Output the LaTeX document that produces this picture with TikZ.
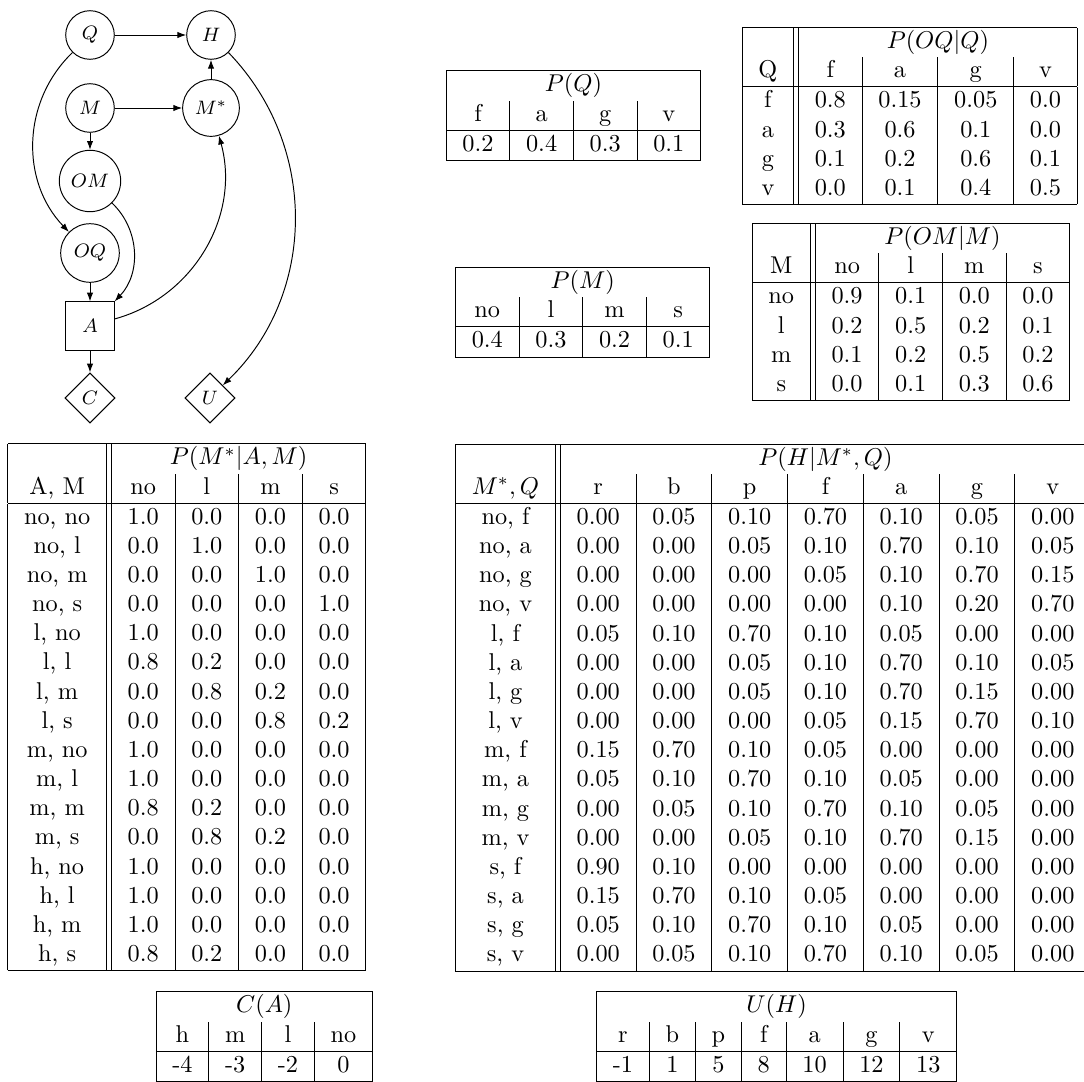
\documentclass[tikz,border=0pt]{standalone}
\usetikzlibrary{arrows.meta,shapes.geometric}
\setlength{\tabcolsep}{6.7pt}

\begin{document}
\begin{tikzpicture}[x=0.4115pt,y=-0.4115pt,
  chance/.style={circle,draw,minimum size=20pt,inner sep=3.3pt,font=\footnotesize},
  decision/.style={rectangle,draw,minimum size=19.8pt,inner sep=2pt,font=\footnotesize},
  utility/.style={diamond,draw,minimum size=20.6pt,inner sep=0pt,font=\footnotesize},
  arr/.style={-{Latex[length=3.6pt,width=2.6pt]}},
  cpt/.style={anchor=north west,inner sep=0pt}]
 \useasboundingbox (0,0) rectangle (1084,1082);
 % influence diagram
 \node[chance] (Q) at (90,35) {$Q$};
 \node[chance] (H) at (211,35) {$H$};
 \node[chance] (M) at (90,108) {$M$};
 \node[chance] (Ms) at (211,108) {$M^*$};
 \node[chance] (OM) at (90,181) {$OM$};
 \node[chance] (OQ) at (90,253) {$OQ$};
 \node[decision] (A) at (90,326) {$A$};
 \node[utility] (C) at (90,398) {$C$};
 \node[utility] (U) at (210,398) {$U$};
 \draw[arr] (Q) -- (H);
 \draw[arr] (M) -- (Ms);
 \draw[arr] (Ms) -- (H);
 \draw[arr] (M) -- (OM);
 \draw[arr] (OQ) -- (A);
 \draw[arr] (A) -- (C);
 \draw[arr] (Q) to[bend right=45] (OQ);
 \draw[arr] (OM) to[bend left=45] (A);
 \draw[arr] (A) to[bend right=45] (Ms);
 \draw[arr] (H) to[bend left=45] (U);
 % tables
 \node[cpt] (tQ) at (445.7,70) {\begin{tabular}{|c|c|c|c|}
  \hline
  \multicolumn{4}{|c|}{$P(Q)$} \\
  f & a & g & v \\ \hline
  0.2 & 0.4 & 0.3 & 0.1 \\ \hline
 \end{tabular}};
 \node[cpt] (tM) at (455,266.7) {\begin{tabular}{|c|c|c|c|}
  \hline
  \multicolumn{4}{|c|}{$P(M)$} \\
  no & l & m & s \\ \hline
  0.4 & 0.3 & 0.2 & 0.1 \\ \hline
 \end{tabular}};
 \node[cpt] (tOQ) at (741.7,26.7) {\begin{tabular}{|c||c|c|c|c|}
  \hline
   & \multicolumn{4}{c|}{$P(OQ|Q)$} \\
  Q & f & a & g & v \\ \hline
  f & 0.8 & 0.15 & 0.05 & 0.0 \\
  a & 0.3 & 0.6 & 0.1 & 0.0 \\
  g & 0.1 & 0.2 & 0.6 & 0.1 \\
  v & 0.0 & 0.1 & 0.4 & 0.5 \\ \hline
 \end{tabular}};
 \node[cpt] (tOM) at (751.7,222.7) {\begin{tabular}{|c||c|c|c|c|}
  \hline
   & \multicolumn{4}{c|}{$P(OM|M)$} \\
  M & no & l & m & s \\ \hline
  no & 0.9 & 0.1 & 0.0 & 0.0 \\
  l & 0.2 & 0.5 & 0.2 & 0.1 \\
  m & 0.1 & 0.2 & 0.5 & 0.2 \\
  s & 0.0 & 0.1 & 0.3 & 0.6 \\ \hline
 \end{tabular}};
 \node[cpt] (tMs) at (7.3,443) {\begin{tabular}{|c||c|c|c|c|}
  \hline
   & \multicolumn{4}{c|}{$P(M^*|A,M)$} \\
  A, M & no & l & m & s \\ \hline
  no, no & 1.0 & 0.0 & 0.0 & 0.0 \\
  no, l & 0.0 & 1.0 & 0.0 & 0.0 \\
  no, m & 0.0 & 0.0 & 1.0 & 0.0 \\
  no, s & 0.0 & 0.0 & 0.0 & 1.0 \\
  l, no & 1.0 & 0.0 & 0.0 & 0.0 \\
  l, l & 0.8 & 0.2 & 0.0 & 0.0 \\
  l, m & 0.0 & 0.8 & 0.2 & 0.0 \\
  l, s & 0.0 & 0.0 & 0.8 & 0.2 \\
  m, no & 1.0 & 0.0 & 0.0 & 0.0 \\
  m, l & 1.0 & 0.0 & 0.0 & 0.0 \\
  m, m & 0.8 & 0.2 & 0.0 & 0.0 \\
  m, s & 0.0 & 0.8 & 0.2 & 0.0 \\
  h, no & 1.0 & 0.0 & 0.0 & 0.0 \\
  h, l & 1.0 & 0.0 & 0.0 & 0.0 \\
  h, m & 1.0 & 0.0 & 0.0 & 0.0 \\
  h, s & 0.8 & 0.2 & 0.0 & 0.0 \\ \hline
 \end{tabular}};
 \node[cpt] (tH) at (455,443.3) {\begin{tabular}{|c||c|c|c|c|c|c|c|}
  \hline
   & \multicolumn{7}{c|}{$P(H|M^*,Q)$} \\
  $M^*,Q$ & r & b & p & f & a & g & v \\ \hline
  no, f & 0.00 & 0.05 & 0.10 & 0.70 & 0.10 & 0.05 & 0.00 \\
  no, a & 0.00 & 0.00 & 0.05 & 0.10 & 0.70 & 0.10 & 0.05 \\
  no, g & 0.00 & 0.00 & 0.00 & 0.05 & 0.10 & 0.70 & 0.15 \\
  no, v & 0.00 & 0.00 & 0.00 & 0.00 & 0.10 & 0.20 & 0.70 \\
  l, f & 0.05 & 0.10 & 0.70 & 0.10 & 0.05 & 0.00 & 0.00 \\
  l, a & 0.00 & 0.00 & 0.05 & 0.10 & 0.70 & 0.10 & 0.05 \\
  l, g & 0.00 & 0.00 & 0.05 & 0.10 & 0.70 & 0.15 & 0.00 \\
  l, v & 0.00 & 0.00 & 0.00 & 0.05 & 0.15 & 0.70 & 0.10 \\
  m, f & 0.15 & 0.70 & 0.10 & 0.05 & 0.00 & 0.00 & 0.00 \\
  m, a & 0.05 & 0.10 & 0.70 & 0.10 & 0.05 & 0.00 & 0.00 \\
  m, g & 0.00 & 0.05 & 0.10 & 0.70 & 0.10 & 0.05 & 0.00 \\
  m, v & 0.00 & 0.00 & 0.05 & 0.10 & 0.70 & 0.15 & 0.00 \\
  s, f & 0.90 & 0.10 & 0.00 & 0.00 & 0.00 & 0.00 & 0.00 \\
  s, a & 0.15 & 0.70 & 0.10 & 0.05 & 0.00 & 0.00 & 0.00 \\
  s, g & 0.05 & 0.10 & 0.70 & 0.10 & 0.05 & 0.00 & 0.00 \\
  s, v & 0.00 & 0.05 & 0.10 & 0.70 & 0.10 & 0.05 & 0.00 \\ \hline
 \end{tabular}};
 \node[cpt] (tC) at (155.5,991) {\begin{tabular}{|c|c|c|c|}
  \hline
  \multicolumn{4}{|c|}{$C(A)$} \\
  h & m & l & no \\ \hline
  -4 & -3 & -2 & 0 \\ \hline
 \end{tabular}};
 \node[cpt] (tU) at (596,991) {\begin{tabular}{|c|c|c|c|c|c|c|}
  \hline
  \multicolumn{7}{|c|}{$U(H)$} \\
  r & b & p & f & a & g & v \\ \hline
  -1 & 1 & 5 & 8 & 10 & 12 & 13 \\ \hline
 \end{tabular}};
\end{tikzpicture}
\end{document}
